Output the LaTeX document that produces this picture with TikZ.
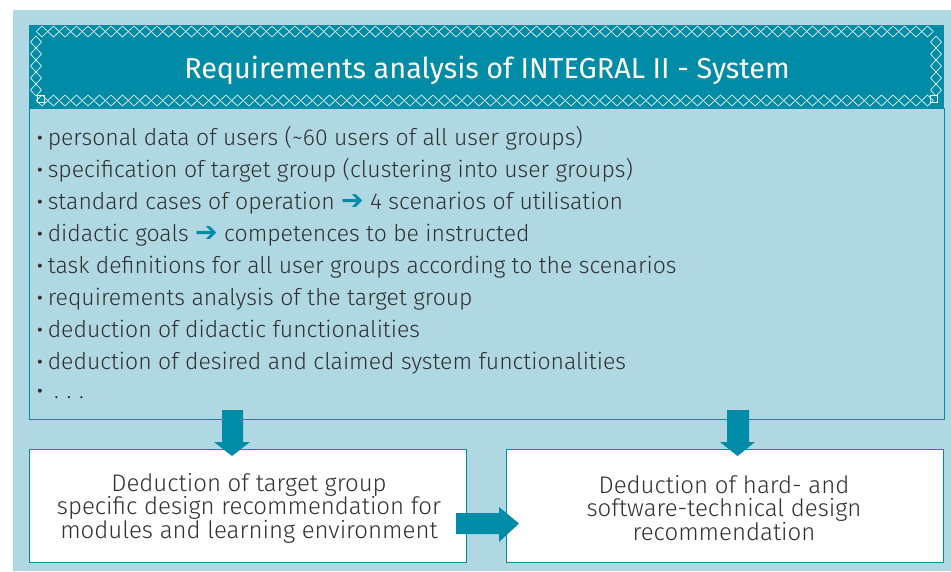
\documentclass[tikz,border=0pt]{standalone}
\usepackage{fontspec}
\setmainfont{Fira Sans Light}
\newfontfamily\headfont{Fira Sans}
\newfontfamily\symfont{DejaVu Sans}
\definecolor{bgblue}{HTML}{B0D8E2}
\definecolor{tealc}{HTML}{008BA7}
\definecolor{txt}{HTML}{303030}
\newcommand{\arr}{{\symfont\fontsize{27}{23}\selectfont\color{tealc}\char"2794}}
\newcommand{\bul}{\raisebox{-2pt}{\fontsize{27}{23}\selectfont •}}
\tikzset{
  item/.style={anchor=base west, inner sep=0pt, text=txt, font=\fontsize{23}{23}\selectfont},
  dia/.style={draw=white, line width=0.6pt},
  blockarrow/.style={fill=tealc, draw=none},
  resbox/.style={draw=tealc, line width=1pt, fill=white, minimum width=437pt, minimum height=113pt, anchor=north west, inner sep=0pt},
  restext/.style={align=center, text=txt, inner sep=0pt, font=\fontsize{24}{23.5}\selectfont},
}
\begin{document}
\begin{tikzpicture}[x=1pt,y=-1pt]
\useasboundingbox (0,0) rectangle (951,571);
\fill[bgblue] (13,10) rectangle (951,571);
% main list box
\node[draw=tealc, line width=1pt, fill=bgblue, minimum width=915pt, minimum height=311pt, anchor=north west, inner sep=0pt] (list) at (29,108) {};
% header
\node[fill=tealc, minimum width=915pt, minimum height=83pt, anchor=north west, inner sep=0pt] (head) at (29,25) {};
\node[anchor=base, text=white, inner sep=0pt, font=\headfont\fontsize{28.8}{28.8}\selectfont] (title) at (487,78) {Requirements analysis of INTEGRAL II - System};
% diamond border
\foreach \i in {0,...,77} {
  \draw[dia] (42+11.5*\i-5.75,31.5) -- (42+11.5*\i,26) -- (42+11.5*\i+5.75,31.5) -- (42+11.5*\i,37) -- cycle;
  \draw[dia] (42+11.5*\i-5.75,100.5) -- (42+11.5*\i,95) -- (42+11.5*\i+5.75,100.5) -- (42+11.5*\i,106) -- cycle;
}
\foreach \j in {0,...,4} {
  \draw[dia] (30.5,42+12*\j) -- (36,36+12*\j) -- (41.5,42+12*\j) -- (36,48+12*\j) -- cycle;
  \draw[dia] (930.5,42+12*\j) -- (936,36+12*\j) -- (941.5,42+12*\j) -- (936,48+12*\j) -- cycle;
}
\draw[dia] (37,95) rectangle (44,102);
\draw[dia] (930,95) rectangle (937,102);
% list items
\node[item] (l1) at (36,145) {\bul\,personal data of users (\textasciitilde 60 users of all user groups)};
\node[item] (l2) at (36,177) {\bul\,specification of target group (clustering into user groups)};
\node[item] (l3) at (36,209) {\bul\,standard cases of operation \arr{} 4 scenarios of utilisation};
\node[item] (l4) at (36,241) {\bul\,didactic goals \arr{} competences to be instructed};
\node[item] (l5) at (36,273) {\bul\,task definitions for all user groups according to the scenarios};
\node[item] (l6) at (36,305) {\bul\,requirements analysis of the target group};
\node[item] (l7) at (36,337) {\bul\,deduction of didactic functionalities};
\node[item] (l8) at (36,369) {\bul\,deduction of desired and claimed system functionalities};
\node[item] (l9) at (36,398) {\bul\ \,.\,\,.\,\,.};
% result boxes
\node[resbox] (left) at (29,449) {};
\node[resbox] (right) at (506,449) {};
\node[restext] (lt) at (249,508) {Deduction of target group\\specific design recommendation for\\modules and learning environment};
\node[restext] (rt) at (724,508) {Deduction of hard- and\\software-technical design\\recommendation};
% block arrows
\fill[blockarrow] (222,410) -- (243,410) -- (243,442) -- (250,442) -- (232,456) -- (214,442) -- (222,442) -- cycle;
\fill[blockarrow] (727,410) -- (749,410) -- (749,442) -- (755,442) -- (737.5,456) -- (720,442) -- (727,442) -- cycle;
\fill[blockarrow] (456,513) -- (499,513) -- (499,507) -- (519,523.5) -- (499,542) -- (499,534) -- (456,534) -- cycle;
\end{tikzpicture}
\end{document}
